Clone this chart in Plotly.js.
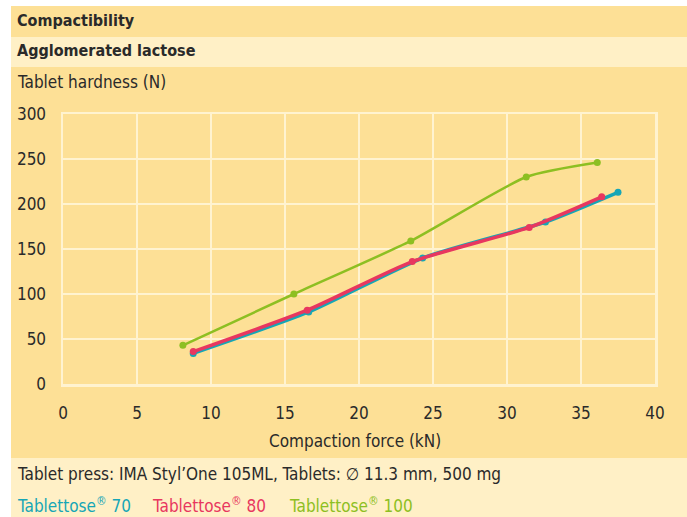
<!DOCTYPE html>
<html><head><meta charset="utf-8">
<script src="https://cdn.plot.ly/plotly-3.0.1.min.js"></script>
<style>html,body{margin:0;padding:0;background:#fff}#c{width:687px;height:517px}</style>
</head><body><div id="c"></div>
<script>
const seriesNames = ['Tablettose<sup>®</sup> 70', 'Tablettose<sup>®</sup> 80', 'Tablettose<sup>®</sup> 100'];
const force70 = [8.8, 16.6, 24.3, 32.6, 37.5];
const hardness70 = [34, 80, 140, 180, 213];
const force80 = [8.8, 16.5, 23.6, 31.5, 36.4];
const hardness80 = [36, 82, 136, 174, 208];
const force100 = [8.1, 15.6, 23.5, 31.3, 36.1];
const hardness100 = [43, 100, 159, 230, 246];
const xTicks = [0, 5, 10, 15, 20, 25, 30, 35, 40];
const yTicks = [0, 50, 100, 150, 200, 250, 300];

const colors = ['#16A6B6', '#E8375F', '#8DBF22'];
const FONT = '"DejaVu Sans Condensed", "Liberation Sans Narrow", sans-serif';
const dark = '#FDE096', light = '#FFF0C6', grid = '#FFF3D0';

const xs = [force70, force80, force100], ys = [hardness70, hardness80, hardness100];
const widths = [3.5, 3.5, 2.5];
const traces = xs.map((x, i) => ({
  x: x, y: ys[i], type: 'scatter', mode: 'lines+markers', name: seriesNames[i],
  line: {color: colors[i], width: widths[i], shape: 'spline', smoothing: 0.6},
  marker: {color: colors[i], size: 7}, hoverinfo: 'x+y'
}));

const annSpec = [
  {text: '<b>Compactibility</b>', y: 21, size: 16},
  {text: '<b>Agglomerated lactose</b>', y: 51, size: 16},
  {text: 'Tablet hardness (N)', y: 82},
  {text: 'Compaction force (kN)', y: 441, center: true},
  {text: 'Tablet press: IMA Styl\u2019One 105ML, Tablets: \u2205 11.3 mm, 500 mg', y: 474},
  {text: seriesNames[0], y: 505, px: 18, color: colors[0]},
  {text: seriesNames[1], y: 505, px: 153, color: colors[1]},
  {text: seriesNames[2], y: 505, px: 290, color: colors[2]}
];

const layout = {
  width: 687, height: 517, showlegend: false,
  paper_bgcolor: '#ffffff', plot_bgcolor: dark,
  margin: {l: 63, r: 32, t: 114, b: 133},
  font: {family: FONT, size: 17, color: '#2a2a2a'},
  xaxis: {range: [0, 40], tickvals: xTicks, ticktext: xTicks.map(String),
    showgrid: true, gridcolor: grid, gridwidth: 2.5, zeroline: false,
    showline: true, linecolor: grid, linewidth: 2.5, mirror: true,
    ticks: '', ticklabelstandoff: 12, tickfont: {family: FONT, size: 17, color: '#2a2a2a'}, fixedrange: true},
  yaxis: {range: [0, 300], tickvals: yTicks, ticktext: yTicks.map(String),
    showgrid: true, gridcolor: grid, gridwidth: 2.5, zeroline: false,
    showline: true, linecolor: grid, linewidth: 2.5, mirror: true,
    ticks: '', ticklabelstandoff: 11, tickfont: {family: FONT, size: 17, color: '#2a2a2a'}, fixedrange: true},
  shapes: [
    {type: 'rect', xref: 'paper', yref: 'paper', layer: 'below', line: {width: 0}, fillcolor: dark,
     x0: -52/592, x1: 1 + 32/592, y0: -74/270, y1: 1 + 47/270},
    {type: 'rect', xref: 'paper', yref: 'paper', layer: 'below', line: {width: 0}, fillcolor: dark,
     x0: -52/592, x1: 1 + 32/592, y0: 1 + 77/270, y1: 1 + 108/270},
    {type: 'rect', xref: 'paper', yref: 'paper', layer: 'below', line: {width: 0}, fillcolor: light,
     x0: -52/592, x1: 1 + 32/592, y0: 1 + 47/270, y1: 1 + 77/270},
    {type: 'rect', xref: 'paper', yref: 'paper', layer: 'below', line: {width: 0}, fillcolor: light,
     x0: -52/592, x1: 1 + 32/592, y0: -133/270, y1: -74/270}
  ],
  annotations: annSpec.map(a => {
    const px = a.center ? 355 : (a.px !== undefined ? a.px : 18) - 3;
    return {
      text: a.text, showarrow: false, xref: 'paper', yref: 'paper',
      x: (px - 63) / 592, y: (384 - a.y) / 270,
      xanchor: a.center ? 'center' : 'left', yanchor: 'middle',
      font: {family: FONT, size: a.size || 17, color: a.color || '#2a2a2a'}
    };
  })
};
Plotly.newPlot('c', traces, layout, {displayModeBar: false, staticPlot: true});
</script></body></html>
